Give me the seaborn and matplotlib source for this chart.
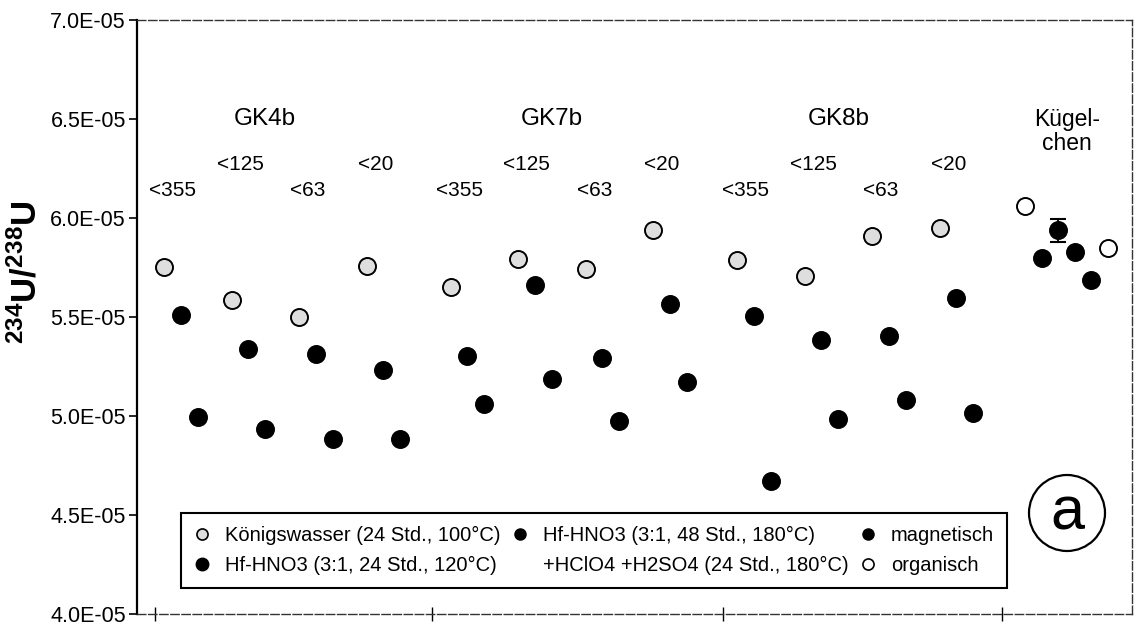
import matplotlib
matplotlib.use('Agg')
import matplotlib.pyplot as plt
import seaborn as sns
import pandas as pd
from matplotlib.lines import Line2D
from matplotlib.patches import Ellipse

# ---------------- data (ratios in units of 1E-05) ----------------
groups = ['GK4b', 'GK7b', 'GK8b']
fractions = ['<355', '<125', '<63', '<20']
koenigswasser = [[5.755, 5.584, 5.498, 5.760],
                 [5.649, 5.795, 5.740, 5.937],
                 [5.790, 5.705, 5.911, 5.947]]
hf_24h = [[5.508, 5.337, 5.311, 5.231],
          [5.301, 5.664, 5.291, 5.564],
          [5.503, 5.382, 5.402, 5.594]]
hf_48h = [[4.994, 4.933, 4.883, 4.883],
          [5.060, 5.185, 4.974, 5.170],
          [4.671, 4.984, 5.080, 5.014]]
kuegel_label = 'Kügel-\nchen'
kuegel_type = ['organisch', 'magnetisch', 'magnetisch', 'magnetisch', 'magnetisch', 'organisch']
kuegel_values = [6.063, 5.800, 5.937, 5.826, 5.685, 5.851]
kuegel_err = [0.0, 0.0, 0.058, 0.0, 0.0, 0.0]
yticks = [4.0, 4.5, 5.0, 5.5, 6.0, 6.5, 7.0]

legend_labels = ['Königswasser (24 Std., 100°C)',
                 'Hf-HNO3 (3:1, 24 Std., 120°C)',
                 'Hf-HNO3 (3:1, 48 Std., 180°C)',
                 '+HClO4 +H2SO4 (24 Std., 180°C)',
                 'magnetisch',
                 'organisch']

# ---------------- layout ----------------
GROUP_STEP = 4.245
FIRST = 0.40
OFFSETS = {'Königswasser': 0.0, 'Hf24': 0.25, 'Hf48': 0.5}
KUEGEL_START = 13.16
KUEGEL_STEP = 0.245
XMAX = 14.74

rows = []
for gi, g in enumerate(groups):
    for fi, f in enumerate(fractions):
        base = gi * GROUP_STEP + fi + FIRST
        rows.append(dict(x=base + OFFSETS['Königswasser'], value=koenigswasser[gi][fi] * 1e-5, series='Königswasser'))
        rows.append(dict(x=base + OFFSETS['Hf24'], value=hf_24h[gi][fi] * 1e-5, series='Hf24'))
        rows.append(dict(x=base + OFFSETS['Hf48'], value=hf_48h[gi][fi] * 1e-5, series='Hf48'))
for i, (t, v) in enumerate(zip(kuegel_type, kuegel_values)):
    rows.append(dict(x=KUEGEL_START + i * KUEGEL_STEP, value=v * 1e-5, series=t, err=kuegel_err[i] * 1e-5))
df = pd.DataFrame(rows).fillna(0.0)

sns.set_theme(style='ticks')
plt.rcParams['font.family'] = ['Liberation Sans', 'DejaVu Sans']
plt.rcParams['mathtext.fontset'] = 'custom'
plt.rcParams['mathtext.rm'] = 'Liberation Sans'
plt.rcParams['mathtext.bf'] = 'Liberation Sans:bold'
plt.rcParams['mathtext.default'] = 'bf'
plt.rcParams['text.color'] = 'black'
plt.rcParams['axes.labelcolor'] = 'black'
plt.rcParams['xtick.color'] = 'black'
plt.rcParams['ytick.color'] = 'black'

fig = plt.figure(figsize=(11.35, 6.25), dpi=100)
ax = fig.add_axes([137 / 1135, 11 / 625, 995 / 1135, 594 / 625])

styles = {
    'Königswasser': dict(color='#dedede'),
    'Hf24': dict(color='black'),
    'Hf48': dict(color='black'),
    'magnetisch': dict(color='black'),
    'organisch': dict(color='white'),
}

# error bar behind the magnetisch marker
mag = df[(df.series == 'magnetisch') & (df.err > 0)]
ax.errorbar(mag.x, mag.value, yerr=mag.err, fmt='none', ecolor='black',
            elinewidth=1.3, capsize=6, capthick=1.5, zorder=2)

for s, st in styles.items():
    sub = df[df.series == s]
    sns.scatterplot(data=sub, x='x', y='value', s=150, color=st['color'],
                    edgecolor='black', linewidth=1.4, ax=ax, legend=False, zorder=3)

# text labels
for gi, g in enumerate(groups):
    base = gi * GROUP_STEP + FIRST
    ax.text(base + 1.5, 6.50e-5, g, ha='center', va='center', fontsize=17.5, color='black')
    for fi, f in enumerate(fractions):
        ylab = 6.14e-5 if fi % 2 == 0 else 6.27e-5
        ax.text(base + fi + 0.13, ylab, f, ha='center', va='center', fontsize=15, color='black')
ax.text(KUEGEL_START + 2.5 * KUEGEL_STEP, 6.435e-5, kuegel_label, ha='center', va='center',
        fontsize=16.5, linespacing=1.05, color='black')

# axes
ax.set_xlim(0, XMAX)
ax.set_ylim(4.0e-5, 7.0e-5)
ax.set_yticks([v * 1e-5 for v in yticks])
ax.set_yticklabels(['{:.1E}'.format(v * 1e-5) for v in yticks])
ax.set_xticks([0.27, 4.37, 8.68, 12.81])
ax.set_xticklabels([])
ax.set_xlabel('')
ax.set_ylabel(r'$^{234}$U/$^{238}$U', fontsize=25, fontweight='bold', color='black')
ax.yaxis.set_label_coords(-0.094, 0.576)
ax.tick_params(axis='y', direction='out', length=6, width=1.2, labelsize=15.5, pad=2,
               colors='black', labelcolor='black')
ax.tick_params(axis='x', direction='inout', length=10, width=1.0, colors='black')

ax.spines['left'].set_linewidth(1.6)
ax.spines['left'].set_color('black')
for sp in ['top', 'right', 'bottom']:
    ax.spines[sp].set_visible(True)
    ax.spines[sp].set_linewidth(1.0)
    ax.spines[sp].set_color('#333333')
    ax.spines[sp].set_linestyle((0, (6, 2)))

# legend
handles = [
    Line2D([], [], ls='', marker='o', markersize=8, markerfacecolor='#dedede', markeredgecolor='black', mew=1.2),
    Line2D([], [], ls='', marker='o', markersize=9, markerfacecolor='black', markeredgecolor='black'),
    Line2D([], [], ls='', marker='o', markersize=8, markerfacecolor='black', markeredgecolor='black'),
    Line2D([], [], ls='', marker=None),
    Line2D([], [], ls='', marker='o', markersize=8, markerfacecolor='black', markeredgecolor='black'),
    Line2D([], [], ls='', marker='o', markersize=8, markerfacecolor='white', markeredgecolor='black', mew=1.2),
]
leg = ax.legend(handles, legend_labels, ncol=3, loc='upper left',
                bbox_to_anchor=(44 / 995, 101 / 594), frameon=True, fancybox=False,
                edgecolor='black', framealpha=1, fontsize=14.5, handlelength=0.8,
                handletextpad=0.75, columnspacing=0.55, borderpad=0.65,
                labelspacing=0.52, borderaxespad=0, labelcolor='black')
leg.get_frame().set_linewidth(1.5)

# panel marker "a"
cx, cy, d = (1067 - 137) / 995, (615 - 514) / 594, 76
ax.add_patch(Ellipse((cx, cy), d / 995, d / 594, transform=ax.transAxes,
                     fill=False, ec='black', lw=1.6, zorder=5))
ax.text(cx, cy - 16 / 594, 'a', transform=ax.transAxes, ha='center', va='baseline',
        fontsize=44, zorder=6, color='black')

fig.savefig('out.png', dpi=100)
